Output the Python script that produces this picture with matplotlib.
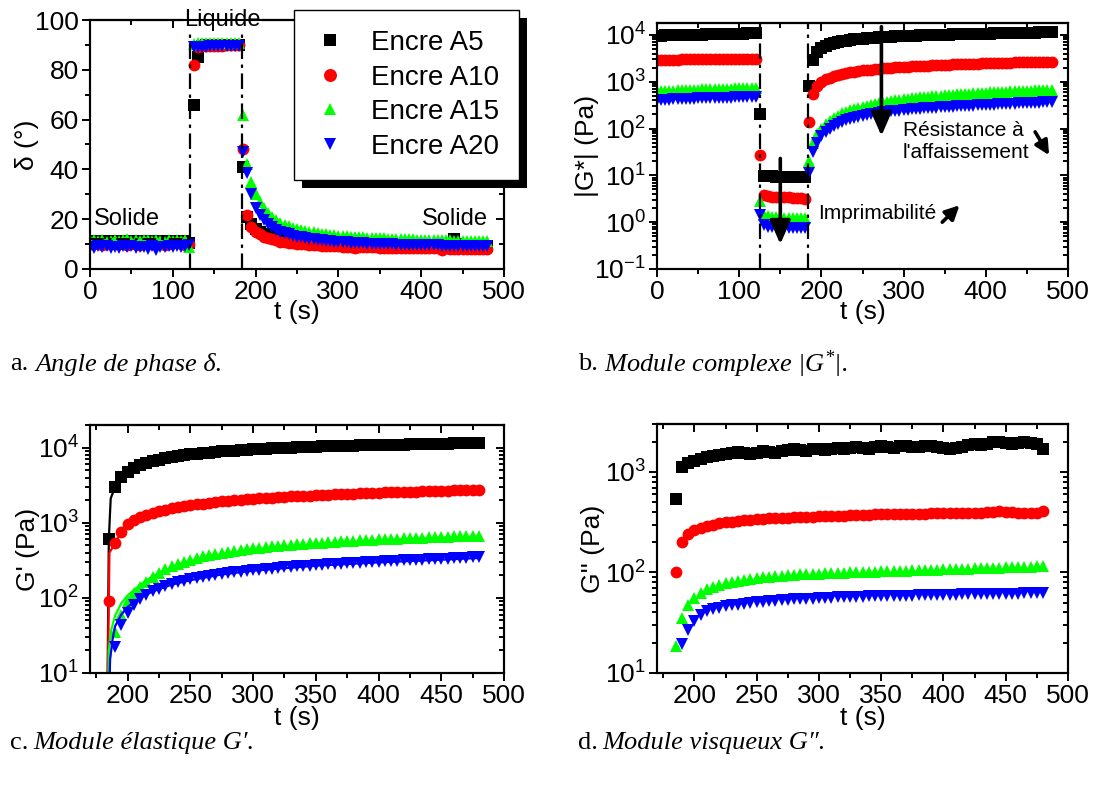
import numpy as np
import matplotlib.pyplot as plt
from matplotlib.patches import Rectangle
from matplotlib.ticker import MultipleLocator, LogLocator, NullFormatter

plt.rcParams['font.family'] = ['Liberation Sans', 'DejaVu Sans']
plt.rcParams['mathtext.default'] = 'regular'
plt.rcParams['axes.unicode_minus'] = False

# sampling times (s): solid 0-120, liquid 125-180, recovery 185-480
t_solid = np.arange(0, 121, 5)
t_liq = np.arange(125, 181, 5)
t_rec = np.arange(185, 481, 5)
t_all = np.concatenate([t_solid, t_liq, t_rec])

inks = ['Encre A5', 'Encre A10', 'Encre A15', 'Encre A20']
colors = ['#000000', '#ff0000', '#00ff00', '#0000ff']
markers = ['s', 'o', '^', 'v']

# ---- a. phase angle delta (deg) ----
delta_A5 = [11.2, 11.0, 11.4, 11.1, 11.3, 11.0, 11.2, 11.4, 11.1, 11.0,
            11.3, 11.2, 11.0, 11.4, 11.1, 11.2, 11.3, 11.0, 11.2, 11.4,
            11.1, 11.0, 11.3, 11.2, 10.5,
            66, 85, 89.5, 89.8, 90, 90, 90, 90, 90, 90, 90, 90,
            41, 21, 18, 16, 15, 14, 13.5, 13, 12.5, 12,
            11.8, 11.6, 11.4, 11.2, 11.1, 11, 10.9, 10.8, 10.7, 10.6,
            10.5, 10.4, 10.4, 10.3, 10.2, 10.2, 10.1, 10.1, 10, 10,
            10, 10, 9.9, 9.9, 9.9, 9.8, 9.8, 9.8, 9.8, 9.7,
            9.7, 9.7, 9.7, 9.6, 9.6, 9.6, 9.6, 9.6, 9.5, 9.5,
            9.5, 12, 10, 9.5, 9.5, 9.5, 9.4, 9.4, 9.4, 9.3]
delta_A10 = [10.2, 10.0, 10.4, 9.8, 10.1, 10.3, 9.9, 10.0, 10.2, 9.7,
             10.1, 10.0, 9.8, 10.3, 10.0, 9.9, 10.1, 10.2, 9.6, 10.0,
             10.3, 10.4, 10.9, 9.8, 10.0,
             82, 89, 89.5, 89.6, 89.6, 89.7, 89.7, 89.7, 89.8, 89.8, 89.8, 89.8,
             48, 21.5, 17, 15, 14, 13, 12.5, 12, 11.5, 11,
             10.8, 10.5, 10.3, 10.1, 10, 9.9, 9.8, 9.6, 9.5, 9.4,
             9.3, 9.2, 9.2, 9.1, 9.0, 9.0, 8.9, 8.5, 8.8, 8.8,
             8.7, 8.7, 8.7, 8.6, 8.6, 8.6, 8.5, 8.5, 8.5, 8.5,
             8.4, 8.4, 8.4, 8.4, 8.3, 8.3, 8.3, 8.3, 7.5, 8.3,
             8.2, 8.2, 8.2, 8.2, 8.1, 8.1, 8.1, 8.1, 8.0, 8.0]
delta_A15 = [11.5, 11.8, 11.2, 11.6, 11.0, 11.4, 11.7, 11.2, 11.5, 11.9,
             11.3, 11.6, 11.1, 11.5, 11.8, 11.2, 11.6, 11.4, 11.0, 11.7,
             11.3, 11.5, 11.2, 11.6, 9.0,
             90.5, 90.6, 90.6, 90.7, 90.7, 90.7, 90.7, 90.7, 90.8, 90.8, 90.8, 90.8,
             62, 42, 35, 30, 27, 24.5, 22.5, 21, 19.5, 18.5,
             17.8, 17.2, 16.6, 16.1, 15.7, 15.3, 15.0, 14.7, 14.4, 14.2,
             14.0, 13.8, 13.6, 13.4, 13.3, 13.2, 13.0, 12.9, 12.8, 12.7,
             12.6, 12.5, 12.4, 12.4, 12.3, 12.2, 12.2, 12.1, 12.0, 12.0,
             11.9, 11.9, 11.8, 11.8, 11.7, 11.7, 11.6, 11.6, 11.5, 11.5,
             11.5, 11.4, 11.4, 11.3, 11.3, 11.3, 11.2, 11.2, 11.1, 11.1]
delta_A20 = [9.0, 8.5, 9.2, 8.8, 9.4, 8.6, 9.0, 8.3, 9.1, 8.7,
             9.3, 8.5, 9.0, 8.8, 8.2, 9.2, 7.5, 9.0, 8.9, 9.3,
             8.7, 9.1, 8.8, 9.2, 9.5,
             89, 89.2, 89.3, 89.3, 89.4, 89.4, 89.4, 89.5, 89.5, 89.5, 89.5, 89.5,
             47, 38.5, 30, 24.5, 21.5, 19.5, 18, 16.8, 15.8, 15,
             14.4, 13.9, 13.4, 13.0, 12.7, 12.4, 12.1, 11.9, 11.7, 11.5,
             11.3, 11.2, 11.0, 10.9, 10.8, 10.7, 10.6, 10.5, 10.4, 10.3,
             10.2, 10.2, 10.1, 10.0, 10.0, 9.9, 9.9, 9.8, 9.8, 9.7,
             9.7, 9.7, 9.6, 9.6, 9.6, 9.5, 9.5, 9.5, 9.4, 9.4,
             9.4, 9.4, 9.3, 9.3, 9.3, 9.3, 9.2, 9.2, 9.2, 9.2]

# ---- b. complex modulus |G*| (Pa) ----
gstar_A5 = [9600, 9700, 9750, 9800, 9850, 9900, 9950, 10000, 10050, 10100,
            10150, 10200, 10250, 10300, 10350, 10400, 10450, 10500, 10550, 10600,
            10650, 10700, 10750, 10800, 10850,
            200, 9.6, 9.5, 9.5, 9.4, 9.4, 9.4, 9.3, 9.3, 9.3, 9.2, 9.2,
            820, 2900, 4300, 5300, 5900, 6400, 6800, 7100, 7400, 7600,
            7800, 8000, 8200, 8350, 8500, 8650, 8800, 8900, 9000, 9100,
            9200, 9300, 9400, 9500, 9550, 9650, 9700, 9800, 9850, 9900,
            9950, 10000, 10100, 10150, 10200, 10250, 10300, 10350, 10400, 10450,
            10500, 10550, 10600, 10650, 10700, 10750, 10800, 10850, 10900, 10950,
            11000, 11050, 11100, 11150, 11200, 11250, 11300, 11350, 11400, 11450]
gstar_A10 = [2900, 2920, 2940, 2950, 2960, 2980, 3000, 3000, 3010, 3020,
             3030, 3040, 3050, 3050, 3060, 3070, 3080, 3080, 3090, 3100,
             3100, 3110, 3120, 3120, 3130,
             27, 3.8, 3.6, 3.5, 3.5, 3.4, 3.4, 3.4, 3.3, 3.3, 3.3, 3.2,
             140, 560, 800, 980, 1120, 1230, 1320, 1400, 1470, 1530,
             1590, 1640, 1690, 1740, 1780, 1820, 1860, 1900, 1930, 1960,
             1990, 2020, 2050, 2080, 2100, 2130, 2150, 2180, 2200, 2220,
             2240, 2260, 2280, 2300, 2320, 2340, 2360, 2380, 2390, 2410,
             2430, 2440, 2460, 2480, 2490, 2510, 2520, 2540, 2550, 2570,
             2580, 2590, 2610, 2620, 2630, 2650, 2660, 2670, 2680, 2700]
gstar_A15 = [620, 630, 640, 650, 650, 660, 660, 670, 670, 680,
             680, 690, 690, 690, 700, 700, 710, 710, 710, 720,
             720, 720, 730, 730, 740,
             2.8, 1.4, 1.35, 1.3, 1.3, 1.3, 1.25, 1.25, 1.25, 1.2, 1.2, 1.2,
             20, 50, 75, 100, 125, 148, 170, 190, 210, 228,
             245, 262, 278, 293, 307, 320, 333, 345, 357, 368,
             390, 402, 414, 425, 436, 446, 456, 465, 474, 483,
             492, 500, 508, 516, 524, 531, 538, 545, 552, 559,
             566, 573, 580, 586, 592, 598, 604, 610, 616, 622,
             628, 634, 640, 645, 650, 656, 662, 668, 674, 680]
gstar_A20 = [400, 405, 410, 415, 420, 420, 425, 430, 430, 435,
             440, 440, 445, 450, 450, 455, 455, 460, 460, 465,
             465, 470, 470, 475, 475,
             1.4, 0.85, 0.8, 0.8, 0.78, 0.78, 0.76, 0.76, 0.75, 0.75, 0.74, 0.74,
             11, 32, 50, 68, 85, 100, 115, 128, 140, 151,
             161, 170, 179, 187, 195, 202, 209, 215, 221, 227,
             233, 238, 243, 248, 253, 257, 261, 265, 269, 273,
             277, 281, 285, 288, 292, 295, 299, 302, 305, 308,
             311, 314, 317, 320, 323, 326, 329, 332, 335, 338,
             341, 344, 347, 350, 353, 356, 359, 362, 366, 370]

# ---- c. storage modulus G' (Pa), recovery only ----
gp_A5 = [600, 3000, 4100, 4800, 5300, 5800, 6200, 6600, 6900, 7200,
         7450, 7700, 7900, 8100, 8300, 8450, 8600, 8750, 8900, 9000,
         9150, 9250, 9350, 9450, 9550, 9650, 9750, 9850, 9900, 10000,
         10050, 10150, 10200, 10300, 10350, 10400, 10500, 10550, 10600, 10650,
         10700, 10750, 10800, 10850, 10900, 10950, 11000, 11000, 11050, 11100,
         11150, 11200, 11200, 11250, 11300, 11350, 11400, 11400, 11450, 11500]
gp_A10 = [90, 530, 760, 950, 1080, 1180, 1270, 1350, 1420, 1490,
          1550, 1610, 1660, 1710, 1760, 1800, 1840, 1880, 1920, 1950,
          1990, 2020, 2050, 2080, 2110, 2140, 2160, 2190, 2210, 2240,
          2260, 2280, 2300, 2320, 2340, 2360, 2380, 2400, 2420, 2440,
          2460, 2480, 2490, 2510, 2530, 2540, 2560, 2570, 2590, 2600,
          2620, 2630, 2650, 2660, 2670, 2690, 2700, 2710, 2730, 2750]
gp_A15 = [5, 35, 60, 90, 115, 140, 165, 190, 215, 240,
          262, 283, 303, 322, 340, 356, 372, 386, 400, 412,
          424, 435, 446, 456, 466, 475, 484, 493, 501, 509,
          517, 524, 531, 538, 545, 552, 558, 564, 570, 576,
          582, 588, 593, 599, 604, 609, 614, 619, 624, 629,
          634, 638, 643, 648, 652, 657, 661, 665, 670, 675]
gp_A20 = [5, 22, 43, 62, 80, 96, 110, 122, 133, 143,
          152, 161, 169, 177, 184, 191, 197, 203, 209, 214,
          219, 224, 229, 234, 238, 242, 246, 250, 254, 258,
          262, 265, 269, 272, 276, 279, 282, 285, 288, 291,
          294, 297, 300, 303, 306, 309, 312, 315, 318, 320,
          323, 326, 329, 331, 334, 337, 340, 343, 346, 350]

# continuous curves drawn under the G' markers
gp_line_t_A5 = [183.5, 185, 186.5, 190, 195, 200, 210, 220, 235, 250, 275, 300, 350, 400, 450, 480]
gp_line_A5 = [1, 600, 2100, 3000, 4100, 4800, 5800, 6600, 7450, 8100, 8900, 9450, 10150, 10750, 11200, 11500]
gp_line_t_A10 = [183.5, 185, 185.5, 190, 195, 200, 210, 220, 235, 250, 275, 300, 350, 400, 450, 480]
gp_line_A10 = [1, 90, 400, 530, 760, 950, 1180, 1350, 1550, 1710, 1920, 2080, 2320, 2510, 2660, 2750]
gp_line_t_A15 = [184, 185, 187, 190, 195, 200, 210, 220, 235, 250, 275, 300, 350, 400, 450, 480]
gp_line_A15 = [1, 20, 38, 58, 85, 108, 150, 195, 255, 310, 380, 440, 520, 585, 635, 660]
gp_line_t_A20 = [184.5, 186, 188, 190, 195, 200, 210, 220, 235, 250, 275, 300, 350, 400, 450, 480]
gp_line_A20 = [1, 15, 28, 42, 60, 76, 100, 122, 150, 172, 205, 230, 268, 297, 322, 340]

# ---- d. loss modulus G'' (Pa), recovery only ----
gpp_A5 = [540, 1120, 1230, 1300, 1350, 1400, 1450, 1480, 1520, 1560,
          1580, 1550, 1520, 1560, 1600, 1580, 1540, 1600, 1650, 1680,
          1650, 1620, 1680, 1700, 1660, 1700, 1720, 1690, 1740, 1760,
          1720, 1700, 1780, 1800, 1760, 1740, 1800, 1820, 1780, 1760,
          1800, 1820, 1780, 1740, 1700, 1720, 1780, 1840, 1880, 1860,
          1900, 1980, 2000, 1950, 1900, 1950, 2000, 1950, 1900, 1700]
gpp_A10 = [100, 202, 240, 262, 278, 290, 300, 308, 315, 320,
           325, 330, 334, 338, 342, 345, 348, 350, 352, 355,
           357, 358, 360, 362, 363, 365, 366, 368, 369, 370,
           372, 374, 378, 382, 380, 378, 380, 382, 384, 385,
           386, 387, 388, 389, 388, 390, 391, 392, 393, 394,
           396, 400, 405, 402, 398, 395, 392, 390, 395, 405]
gpp_A15 = [18.7, 35, 47, 56, 63, 68, 72, 75, 78, 81,
           83, 85, 87, 89, 90, 91, 92, 93, 94, 95,
           96, 96.5, 97, 97.5, 98, 98.5, 99, 99.5, 100, 100.5,
           101, 101.5, 102, 102.5, 103, 103.5, 104, 104.5, 105, 105.5,
           106, 106.5, 107, 107.5, 108, 108.5, 109, 109.5, 110, 110.5,
           111, 111.5, 112, 112.5, 113, 113.5, 114, 114.5, 115, 115]
gpp_A20 = [np.nan, 19.5, 27, 33, 38, 41, 43, 44.5, 46, 47,
           48, 49, 50, 50.5, 51, 52, 52.5, 53, 53.5, 54,
           54.5, 55, 55, 55.5, 56, 56, 56.5, 57, 57, 57.5,
           57.5, 58, 58, 58, 58.5, 58.5, 59, 59, 59, 59.5,
           59.5, 59.5, 60, 60, 60, 60, 60.5, 60.5, 60.5, 61,
           61, 61, 61, 61.5, 61.5, 61.5, 62, 62, 62, 62]

W, H = 1103, 785
fig = plt.figure(figsize=(W / 100, H / 100), dpi=100)


def box(l, t, r, b):
    # axes rectangle from pixel edges
    return [l / W, 1 - b / H, (r - l) / W, (b - t) / H]


ax_a = fig.add_axes(box(90, 20, 504, 269))
ax_b = fig.add_axes(box(657, 23, 1068, 269))
ax_c = fig.add_axes(box(90, 425, 504, 673))
ax_d = fig.add_axes(box(657, 424, 1068, 673))

ms = 8.5
dashdot = (0, (7, 2.5, 1.5, 2.5))


def style(ax, xmaj, xmin, ymaj=None, ymin=None):
    # left/bottom ticks outward with labels, right/top ticks inward without
    log = ymaj is None
    ax.xaxis.set_major_locator(MultipleLocator(xmaj))
    ax.xaxis.set_minor_locator(MultipleLocator(xmin))
    if log:
        ax.yaxis.set_major_locator(LogLocator(numticks=20))
        ax.yaxis.set_minor_locator(LogLocator(subs=np.arange(2, 10), numticks=30))
        ax.yaxis.set_minor_formatter(NullFormatter())
    else:
        ax.yaxis.set_major_locator(MultipleLocator(ymaj))
        ax.yaxis.set_minor_locator(MultipleLocator(ymin))
    for s in ax.spines.values():
        s.set_linewidth(1.5)
    ax.tick_params(which='both', direction='out', top=False, right=False,
                   labelsize=19, width=1.4, pad=2)
    ax.tick_params(which='major', length=6)
    ax.tick_params(which='minor', length=3.5)

    r = ax.twinx()
    if log:
        r.set_yscale('log')
        r.yaxis.set_major_locator(LogLocator(numticks=20))
        r.yaxis.set_minor_locator(LogLocator(subs=np.arange(2, 10), numticks=30))
        r.yaxis.set_minor_formatter(NullFormatter())
    else:
        r.yaxis.set_major_locator(MultipleLocator(ymaj))
        r.yaxis.set_minor_locator(MultipleLocator(ymin))
    r.set_ylim(ax.get_ylim())
    r.tick_params(which='both', direction='in', labelright=False, width=1.4)
    r.tick_params(which='major', length=6)
    r.tick_params(which='minor', length=3.5)

    top = ax.secondary_xaxis('top')
    top.xaxis.set_major_locator(MultipleLocator(xmaj))
    top.xaxis.set_minor_locator(MultipleLocator(xmin))
    top.tick_params(which='both', direction='in', labeltop=False, width=1.4)
    top.tick_params(which='major', length=6)
    top.tick_params(which='minor', length=3.5)
    for s in list(r.spines.values()) + list(top.spines.values()):
        s.set_linewidth(1.5)


def xlab(ax, ypix):
    ax.set_xlabel('t (s)', fontsize=19)
    ax.xaxis.set_label_coords(0.5, -ypix)
    ax.xaxis.label.set_verticalalignment('center')


def ylab(ax, text, xfrac):
    ax.set_ylabel(text, fontsize=19)
    ax.yaxis.set_label_coords(xfrac, 0.5)
    ax.yaxis.label.set_verticalalignment('center')


# ---------- panel a ----------
for vals, c, m, lab in zip([delta_A5, delta_A10, delta_A15, delta_A20], colors, markers, inks):
    ax_a.plot(t_all, vals, ls='none', marker=m, color=c, ms=ms, mew=0, label=lab)
ax_a.axvline(121, color='k', lw=1.6, ls=dashdot, zorder=4)
ax_a.axvline(184, color='k', lw=1.6, ls=dashdot, zorder=4)
ax_a.plot([0, 121], [12, 12], color='k', lw=1.4, ls=dashdot)
ax_a.set_xlim(0, 500)
ax_a.set_ylim(0, 100)
style(ax_a, 100, 50, 20, 10)
xlab(ax_a, 43 / 249)
ylab(ax_a, 'δ (°)', -0.152)
ax_a.text(160, 100, 'Liquide', fontsize=17, ha='center', va='center', zorder=6,
          bbox=dict(fc='white', ec='none', pad=1), clip_on=False)
ax_a.text(5, 20, 'Solide', fontsize=17, ha='left', va='center', zorder=6,
          bbox=dict(fc='white', ec='none', pad=0.5))
ax_a.text(481, 20, 'Solide', fontsize=17, ha='right', va='center', zorder=6,
          bbox=dict(fc='white', ec='none', pad=0.5))

# ---------- panel b ----------
for vals, c, m in zip([gstar_A5, gstar_A10, gstar_A15, gstar_A20], colors, markers):
    ax_b.plot(t_all, vals, ls='none', marker=m, color=c, ms=ms, mew=0)
ax_b.axvline(125, color='k', lw=1.6, ls=dashdot, zorder=4)
ax_b.axvline(184, color='k', lw=1.6, ls=dashdot, zorder=4)
ax_b.set_yscale('log')
ax_b.set_xlim(0, 500)
ax_b.set_ylim(0.1, 1.8e4)
style(ax_b, 100, 50)
xlab(ax_b, 43 / 246)
ylab(ax_b, '|G*| (Pa)', -0.170)
arrow = dict(arrowstyle='-|>,head_width=0.35,head_length=0.8', color='k', lw=2.6,
             shrinkA=0, shrinkB=0, mutation_scale=18)
ax_b.annotate('', xy=(273, 70), xytext=(273, 1.5e4), arrowprops=arrow, zorder=7)
ax_b.annotate('', xy=(150, 0.34), xytext=(150, 23), arrowprops=arrow, zorder=7)
small = dict(arrowstyle='-|>,head_width=0.35,head_length=0.7', color='k', lw=2.6,
             shrinkA=0, shrinkB=0, mutation_scale=12)
ax_b.annotate('', xy=(477, 27), xytext=(460, 85), arrowprops=small, zorder=7)
ax_b.annotate('', xy=(368, 2.3), xytext=(347, 1.0), arrowprops=small, zorder=7)
ax_b.text(299, 53, "Résistance à\nl'affaissement", fontsize=15, ha='left', va='center',
          multialignment='left', zorder=6)
ax_b.text(196, 1.57, 'Imprimabilité', fontsize=15, ha='left', va='center', zorder=6)

# ---------- panel c ----------
lines_c = [(gp_line_t_A5, gp_line_A5), (gp_line_t_A10, gp_line_A10),
           (gp_line_t_A15, gp_line_A15), (gp_line_t_A20, gp_line_A20)]
for (lt, lv), vals, c, m in zip(lines_c, [gp_A5, gp_A10, gp_A15, gp_A20], colors, markers):
    ax_c.plot(lt, lv, color=c, lw=1.6)
    ax_c.plot(t_rec, vals, ls='none', marker=m, color=c, ms=ms, mew=0)
ax_c.set_yscale('log')
ax_c.set_xlim(170, 500)
ax_c.set_ylim(10, 2e4)
style(ax_c, 50, 25)
xlab(ax_c, 45 / 248)
ylab(ax_c, "G' (Pa)", -0.150)

# ---------- panel d ----------
for vals, c, m in zip([gpp_A5, gpp_A10, gpp_A15, gpp_A20], colors, markers):
    ax_d.plot(t_rec, vals, ls='none', marker=m, color=c, ms=ms, mew=0)
ax_d.set_yscale('log')
ax_d.set_xlim(170, 500)
ax_d.set_ylim(10, 3000)
style(ax_d, 50, 25)
xlab(ax_d, 45 / 249)
ylab(ax_d, "G'' (Pa)", -0.156)

# ---------- legend with a hard black shadow ----------
handles, labels = ax_a.get_legend_handles_labels()
leg = fig.legend(handles, labels, loc='upper left', bbox_to_anchor=(294 / W, 1 - 10 / H),
                 fontsize=20, frameon=True, fancybox=False, framealpha=1, edgecolor='k',
                 borderpad=0.72, handlelength=1.18, handletextpad=0.87, labelspacing=0.31,
                 borderaxespad=0, markerscale=1.1)
leg.get_frame().set_linewidth(1.0)
leg.set_zorder(10)
fig.canvas.draw()
bb = leg.get_frame().get_window_extent()
fig.add_artist(Rectangle(((bb.x0 + 8) / W, (bb.y0 - 8) / H), bb.width / W, bb.height / H,
                         transform=fig.transFigure, fc='k', ec='none', zorder=9))

# ---------- captions ----------
serif = ['Liberation Serif', 'DejaVu Serif']
cap = 19
fig.text(10 / W, 1 - 364 / H, 'a.', family=serif, fontsize=cap, va='center')
fig.text(35 / W, 1 - 364 / H, 'Angle de phase δ.', family=serif, style='italic', fontsize=cap, va='center')
fig.text(578 / W, 1 - 364 / H, 'b.', family=serif, fontsize=cap, va='center')
fig.text(604 / W, 1 - 364 / H, 'Module complexe $|G^{*}|$.', family=serif, style='italic', fontsize=cap, va='center')
fig.text(10 / W, 1 - 743 / H, 'c.', family=serif, fontsize=cap, va='center')
fig.text(33 / W, 1 - 743 / H, 'Module élastique G\u2032.', family=serif, style='italic', fontsize=cap, va='center')
fig.text(578 / W, 1 - 743 / H, 'd.', family=serif, fontsize=cap, va='center')
fig.text(602 / W, 1 - 743 / H, 'Module visqueux G\u2033.', family=serif, style='italic', fontsize=cap, va='center')

fig.savefig('out.png', dpi=100)
